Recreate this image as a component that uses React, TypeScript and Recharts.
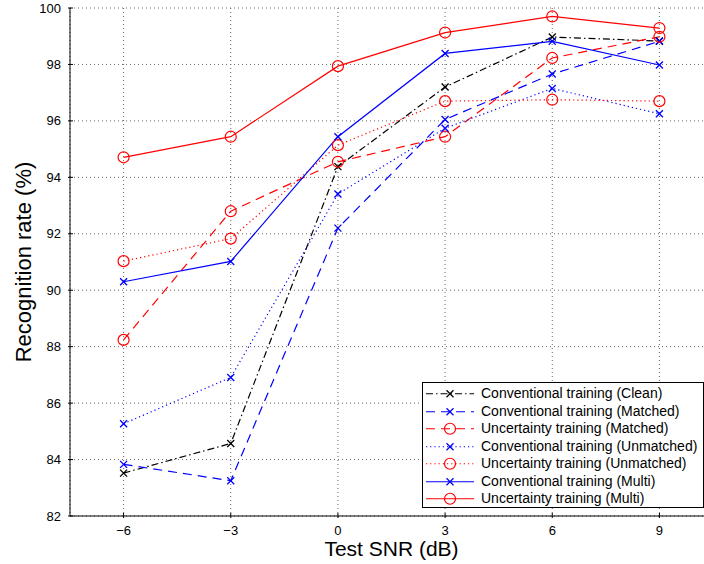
import { CartesianGrid, Label, Legend, Line, LineChart, XAxis, YAxis } from 'recharts';

const snr = [-6, -3, 0, 3, 6, 9];
const xTicks = [-6, -3, 0, 3, 6, 9];
const yTicks = [82, 84, 86, 88, 90, 92, 94, 96, 98, 100];

const convClean = [83.52, 84.57, 94.38, 97.2, 98.97, 98.83];
const convMatched = [83.83, 83.25, 92.2, 96.05, 97.66, 98.82];
const uncMatched = [88.24, 92.8, 94.55, 95.44, 98.23, 98.98];
const convUnmatched = [85.27, 86.91, 93.41, 95.74, 97.15, 96.25];
const uncUnmatched = [91.03, 91.83, 95.14, 96.7, 96.75, 96.7];
const convMulti = [90.3, 91.02, 95.44, 98.39, 98.82, 97.98];
const uncMulti = [94.71, 95.44, 97.94, 99.13, 99.7, 99.29];

const series = [
  { key: 'convClean', name: 'Conventional training (Clean)', values: convClean, color: '#000000', dash: '7 3 1.5 3', marker: 'x' },
  { key: 'convMatched', name: 'Conventional training (Matched)', values: convMatched, color: '#0000ff', dash: '9 6', marker: 'x' },
  { key: 'uncMatched', name: 'Uncertainty training (Matched)', values: uncMatched, color: '#ff0000', dash: '9 6', marker: 'o' },
  { key: 'convUnmatched', name: 'Conventional training (Unmatched)', values: convUnmatched, color: '#0000ff', dash: '1.2 3', marker: 'x' },
  { key: 'uncUnmatched', name: 'Uncertainty training (Unmatched)', values: uncUnmatched, color: '#ff0000', dash: '1.2 3', marker: 'o' },
  { key: 'convMulti', name: 'Conventional training (Multi)', values: convMulti, color: '#0000ff', dash: undefined, marker: 'x' },
  { key: 'uncMulti', name: 'Uncertainty training (Multi)', values: uncMulti, color: '#ff0000', dash: undefined, marker: 'o' },
];

const data = snr.map((s, i) => {
  const row: Record<string, number> = { snr: s };
  series.forEach((sr) => {
    row[sr.key] = sr.values[i];
  });
  return row;
});

const FONT = '"Liberation Sans", Arial, Helvetica, sans-serif';

function Marker({ cx, cy, color, type }: { cx: number; cy: number; color: string; type: string }) {
  if (cx == null || cy == null) return null;
  if (type === 'o') {
    return <circle cx={cx} cy={cy} r={5.5} fill="none" stroke={color} strokeWidth={1.2} />;
  }
  const h = 3.5;
  return (
    <g stroke={color} strokeWidth={1.3}>
      <line x1={cx - h} y1={cy - h} x2={cx + h} y2={cy + h} />
      <line x1={cx - h} y1={cy + h} x2={cx + h} y2={cy - h} />
    </g>
  );
}

const fmt = (v: number) => (v < 0 ? '\u2212' + Math.abs(v) : String(v));

function BottomTick(props: any) {
  const { x, y, payload } = props;
  return (
    <g>
      <line x1={x} y1={y} x2={x} y2={y - 5} stroke="#000" />
      <text x={x} y={y + 8} dy="0.71em" textAnchor="middle" fontSize={13} fill="#000" fontFamily={FONT}>
        {fmt(payload.value)}
      </text>
    </g>
  );
}

function TopTick(props: any) {
  const { x, y } = props;
  return <line x1={x} y1={y} x2={x} y2={y + 5} stroke="#000" />;
}

function LeftTick(props: any) {
  const { x, y, payload } = props;
  return (
    <g>
      <line x1={x} y1={y} x2={x + 5} y2={y} stroke="#000" />
      <text x={x - 7} y={y} dy="0.35em" textAnchor="end" fontSize={13} fill="#000" fontFamily={FONT}>
        {payload.value}
      </text>
    </g>
  );
}

function LegendBox() {
  return (
    <div
      style={{
        border: '1px solid #000',
        background: '#fff',
        boxSizing: 'border-box',
        width: 282,
        height: 126,
        paddingTop: 2,
        fontFamily: FONT,
        fontSize: 14,
      }}
    >
      {series.map((s) => (
        <div key={s.key} style={{ display: 'flex', alignItems: 'center', height: 17.5 }}>
          <svg width={58} height={17.5} style={{ flex: 'none' }}>
            <line x1={3} y1={8.75} x2={51} y2={8.75} stroke={s.color} strokeWidth={1.2} strokeDasharray={s.dash} />
            <Marker cx={27} cy={8.75} color={s.color} type={s.marker} />
          </svg>
          <span style={{ whiteSpace: 'nowrap', lineHeight: '17.5px' }}>{s.name}</span>
        </div>
      ))}
    </div>
  );
}

export default function App() {
  return (
    <div
      style={{
        position: 'fixed',
        left: 0,
        top: 0,
        width: 704,
        height: 564,
        overflow: 'hidden',
        background: '#fff',
        fontFamily: FONT,
      }}
    >
      <LineChart width={720} height={564} data={data} margin={{ top: 8, right: 7, left: 0, bottom: 0 }}>
        <CartesianGrid stroke="#666" strokeDasharray="1 3" />
        <XAxis
          dataKey="snr"
          type="number"
          domain={[-7.5, 10.5]}
          ticks={xTicks}
          height={48}
          stroke="#000"
          tickLine={false}
          tickSize={0}
          tick={<BottomTick />}
          interval={0}
        >
          <Label value="Test SNR (dB)" position="insideBottom" offset={8} fontSize={21} fill="#000" fontFamily={FONT} />
        </XAxis>
        <XAxis
          xAxisId="top"
          orientation="top"
          dataKey="snr"
          type="number"
          domain={[-7.5, 10.5]}
          ticks={xTicks}
          height={0}
          stroke="#000"
          tickLine={false}
          tickSize={0}
          tick={<TopTick />}
          interval={0}
        />
        <YAxis
          type="number"
          domain={[82, 100]}
          ticks={yTicks}
          width={70}
          stroke="#000"
          tickLine={false}
          tickSize={0}
          tick={<LeftTick />}
          interval={0}
        >
          <Label
            content={() => (
              <text
                x={23}
                y={262}
                transform="rotate(-90 23 262)"
                textAnchor="middle"
                dominantBaseline="central"
                fontSize={22}
                fill="#000"
                fontFamily={FONT}
              >
                Recognition rate (%)
              </text>
            )}
          />
        </YAxis>
        <Legend
          layout="vertical"
          align="center"
          verticalAlign="middle"
          wrapperStyle={{ left: 422, top: 382, width: 282, height: 126 }}
          content={() => <LegendBox />}
        />
        {series.map((s) => (
          <Line
            key={s.key}
            dataKey={s.key}
            name={s.name}
            stroke={s.color}
            strokeWidth={1.2}
            strokeDasharray={s.dash}
            type="linear"
            isAnimationActive={false}
            dot={(p: any) => <Marker key={`${s.key}-${p.index}`} cx={p.cx} cy={p.cy} color={s.color} type={s.marker} />}
            activeDot={false}
          />
        ))}
      </LineChart>
    </div>
  );
}
